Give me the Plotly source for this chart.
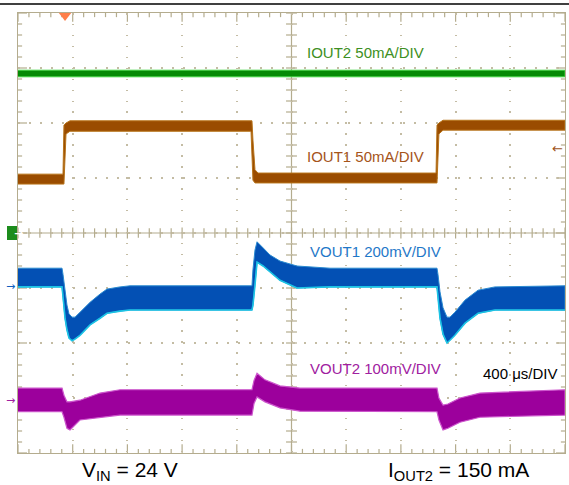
import plotly.graph_objects as go

# ---------------- data (time in µs, amplitude in screen divisions) ----------------
IOUT2_T = [0, 4000]
IOUT2_TOP = [2.96, 2.96]
IOUT2_BOT = [2.84, 2.84]

IOUT1_T = [0, 329, 336, 351, 380, 1704, 1711, 1718, 1733, 1755, 3057, 3064, 3078, 3108, 4000]
IOUT1_TOP = [1.07, 1.07, 1.96, 2.00, 2.04, 2.04, 2.04, 1.69, 1.15, 1.09, 1.09, 1.96, 2.00, 2.05, 2.05]
IOUT1_BOT = [0.89, 0.89, 0.89, 1.80, 1.85, 1.85, 1.51, 0.96, 0.91, 0.91, 0.91, 0.91, 1.80, 1.87, 1.87]

VOUT1_T = [0, 322, 329, 344, 358, 373, 395, 417, 453, 527, 600, 651, 746, 819,
           1711, 1718, 1733, 1748, 1792, 1843, 1916, 2040, 2282,
           3064, 3071, 3086, 3108, 3137, 3159, 3195, 3269, 3364, 3488, 4000]
VOUT1_TOP = [-0.64, -0.64, -0.75, -1.07, -1.31, -1.47, -1.53, -1.53, -1.44, -1.26, -1.11, -1.02, -0.98, -0.96,
             -0.96, -0.67, -0.31, -0.16, -0.27, -0.40, -0.51, -0.60, -0.64,
             -0.64, -0.75, -1.07, -1.36, -1.53, -1.53, -1.44, -1.22, -1.04, -0.98, -0.96]
VOUT1_BOT = [-0.98, -0.98, -1.15, -1.55, -1.76, -1.91, -1.96, -1.93, -1.86, -1.67, -1.55, -1.46, -1.42, -1.40,
             -1.40, -1.31, -0.95, -0.53, -0.60, -0.71, -0.86, -1.00, -0.98,
             -0.98, -1.15, -1.55, -1.84, -2.00, -1.95, -1.86, -1.64, -1.46, -1.40, -1.40]

VOUT2_T = [0, 322, 336, 358, 380, 453, 600, 746, 1711, 1726, 1748, 1806, 1916, 2062,
           3064, 3078, 3108, 3144, 3232, 3378, 4000]
VOUT2_TOP = [-2.82, -2.82, -2.95, -3.07, -3.07, -3.04, -2.91, -2.85, -2.85, -2.68, -2.55, -2.67, -2.78, -2.82,
             -2.82, -3.00, -3.13, -3.11, -3.00, -2.91, -2.85]
VOUT2_BOT = [-3.25, -3.25, -3.35, -3.55, -3.58, -3.40, -3.35, -3.31, -3.31, -3.10, -2.98, -3.07, -3.18, -3.24,
             -3.25, -3.40, -3.58, -3.55, -3.44, -3.35, -3.31]

TRIGGER_T = 344
LABELS = ["IOUT2 50mA/DIV", "IOUT1 50mA/DIV", "VOUT1 200mV/DIV", "VOUT2 100mV/DIV"]
TIMEBASE = "400 μs/DIV"
BOTTOM_LEFT = "V<sub>IN</sub> = 24 V"
BOTTOM_RIGHT = "I<sub>OUT2</sub> = 150 mA"

# ---------------- figure ----------------
FONT = "Liberation Sans, Arial, sans-serif"
GRID = "#c4bca4"
AXIS = "#b4ac8e"

fig = go.Figure()

def band(t, top, bot, fill, edge, ew, bottom_edge=None):
    fig.add_trace(go.Scatter(
        x=list(t) + list(t)[::-1], y=list(top) + list(bot)[::-1],
        mode="lines", fill="toself", fillcolor=fill,
        line=dict(color=edge, width=ew), hoverinfo="skip", showlegend=False))
    if bottom_edge:
        fig.add_trace(go.Scatter(x=t, y=bot, mode="lines",
                                 line=dict(color=bottom_edge, width=1.6),
                                 hoverinfo="skip", showlegend=False))

band(IOUT2_T, IOUT2_TOP, IOUT2_BOT, "#058a05", "#3fd23f", 1.0)
band(IOUT1_T, IOUT1_TOP, IOUT1_BOT, "#9a4c00", "#b8741a", 1.0)
band(VOUT1_T, VOUT1_TOP, VOUT1_BOT, "#0350b4", "#2a8ad0", 1.0, bottom_edge="#1cc4e4")
band(VOUT2_T, VOUT2_TOP, VOUT2_BOT, "#9c009c", "#cc55cc", 1.2)

# trigger marker
fig.add_trace(go.Scatter(x=[TRIGGER_T], y=[3.955], mode="markers",
                         marker=dict(symbol="triangle-down", size=11, color="#ff7f4a"),
                         cliponaxis=False, hoverinfo="skip", showlegend=False))

shapes = []
# centre crosshair
shapes.append(dict(type="line", xref="x", yref="y", x0=2000, x1=2000, y0=-4, y1=4,
                   line=dict(color=AXIS, width=1.2), layer="below"))
shapes.append(dict(type="line", xref="x", yref="y", x0=0, x1=4000, y0=0, y1=0,
                   line=dict(color=AXIS, width=1.2), layer="below"))
for i in range(51):
    t = i * 80
    major = i % 5 == 0
    h = 0.1 if major else 0.085
    shapes.append(dict(type="line", xref="x", yref="y", x0=t, x1=t, y0=-h, y1=h,
                       line=dict(color=AXIS, width=1.2), layer="below"))
    L = 0.16 if major else 0.075
    shapes.append(dict(type="line", xref="x", yref="y", x0=t, x1=t, y0=-4, y1=-4 + L,
                       line=dict(color=AXIS, width=1.2), layer="below"))
    shapes.append(dict(type="line", xref="x", yref="y", x0=t, x1=t, y0=4, y1=4 - L,
                       line=dict(color=AXIS, width=1.2), layer="below"))
for i in range(41):
    y = -4 + i * 0.2
    major = i % 5 == 0
    w = 40
    shapes.append(dict(type="line", xref="x", yref="y", x0=2000 - w, x1=2000 + w, y0=y, y1=y,
                       line=dict(color=AXIS, width=1.2), layer="below"))
    L = 66 if major else 30
    shapes.append(dict(type="line", xref="x", yref="y", x0=0, x1=L, y0=y, y1=y,
                       line=dict(color=AXIS, width=1.2), layer="below"))
    shapes.append(dict(type="line", xref="x", yref="y", x0=4000, x1=4000 - L, y0=y, y1=y,
                       line=dict(color=AXIS, width=1.2), layer="below"))
# top black rule
shapes.append(dict(type="line", xref="paper", yref="paper", x0=-18 / 547, x1=1 + 4 / 547,
                   y0=1 + 9 / 440, y1=1 + 9 / 440, line=dict(color="black", width=1.5)))
# green channel box
shapes.append(dict(type="rect", xref="paper", yref="paper", x0=-11 / 547, x1=-1 / 547,
                   y0=(453 - 240) / 440, y1=(453 - 226) / 440,
                   fillcolor="#1c8c1c", line=dict(width=0)))
fig.update_layout(shapes=shapes)

ann = []
ann.append(dict(xref="paper", yref="paper", x=-6 / 547, y=0.5, text="<b>→</b>", showarrow=False,
                font=dict(color="white", size=11, family="DejaVu Sans")))
# channel offset markers
ann.append(dict(xref="paper", yref="paper", x=-1 / 547, y=(453 - 286) / 440, text="→",
                xanchor="right", yanchor="middle", showarrow=False,
                font=dict(color="#1060c0", size=11, family="DejaVu Sans")))
ann.append(dict(xref="paper", yref="paper", x=-1 / 547, y=(453 - 400) / 440, text="→",
                xanchor="right", yanchor="middle", showarrow=False,
                font=dict(color="#a020a0", size=11, family="DejaVu Sans")))
ann.append(dict(xref="x", yref="y", x=3890, y=1.545, text="←",
                xanchor="left", yanchor="middle", showarrow=False,
                font=dict(color="#a0521a", size=13, family="DejaVu Sans")))

label_pos = [(2099, 3.29, "#3d8f23"), (2099, 1.40, "#a5541a"),
             (2121, -0.345, "#1f78c8"), (2121, -2.455, "#a020a0")]
for txt, (x, y, c) in zip(LABELS, label_pos):
    ann.append(dict(xref="x", yref="y", x=x, y=y, text=txt, showarrow=False,
                    xanchor="left", yanchor="middle", font=dict(color=c, size=15, family=FONT)))
ann.append(dict(xref="x", yref="y", x=3386, y=-2.56, text=TIMEBASE, showarrow=False,
                xanchor="left", yanchor="middle", font=dict(color="black", size=15, family=FONT)))
ann.append(dict(xref="paper", yref="paper", x=(130 - 18) / 547, y=(453 - 471) / 440, text=BOTTOM_LEFT,
                showarrow=False, xanchor="center", yanchor="middle",
                font=dict(color="black", size=21, family=FONT)))
ann.append(dict(xref="paper", yref="paper", x=(458 - 18) / 547, y=(453 - 471) / 440, text=BOTTOM_RIGHT,
                showarrow=False, xanchor="center", yanchor="middle",
                font=dict(color="black", size=21, family=FONT)))
fig.update_layout(annotations=ann)

axis_common = dict(showticklabels=False, ticks="", mirror=True, showline=True,
                   linecolor=AXIS, linewidth=1.2,
                   showgrid=True, gridcolor=GRID, gridwidth=1.5, zeroline=False, fixedrange=True)
fig.update_xaxes(range=[0, 4000], dtick=400, tick0=0, griddash="1.5px,9.44px", **axis_common)
fig.update_yaxes(range=[-4, 4], dtick=1, tick0=0, griddash="1.5px,9.5px", **axis_common)

fig.update_layout(width=569, height=485, margin=dict(l=18, r=4, t=13, b=32),
                  paper_bgcolor="white", plot_bgcolor="white", showlegend=False,
                  font=dict(family=FONT))

fig.write_html("out.html", config={"displayModeBar": False},
               post_script="document.body.style.margin='0px';document.body.style.overflow='hidden';")
